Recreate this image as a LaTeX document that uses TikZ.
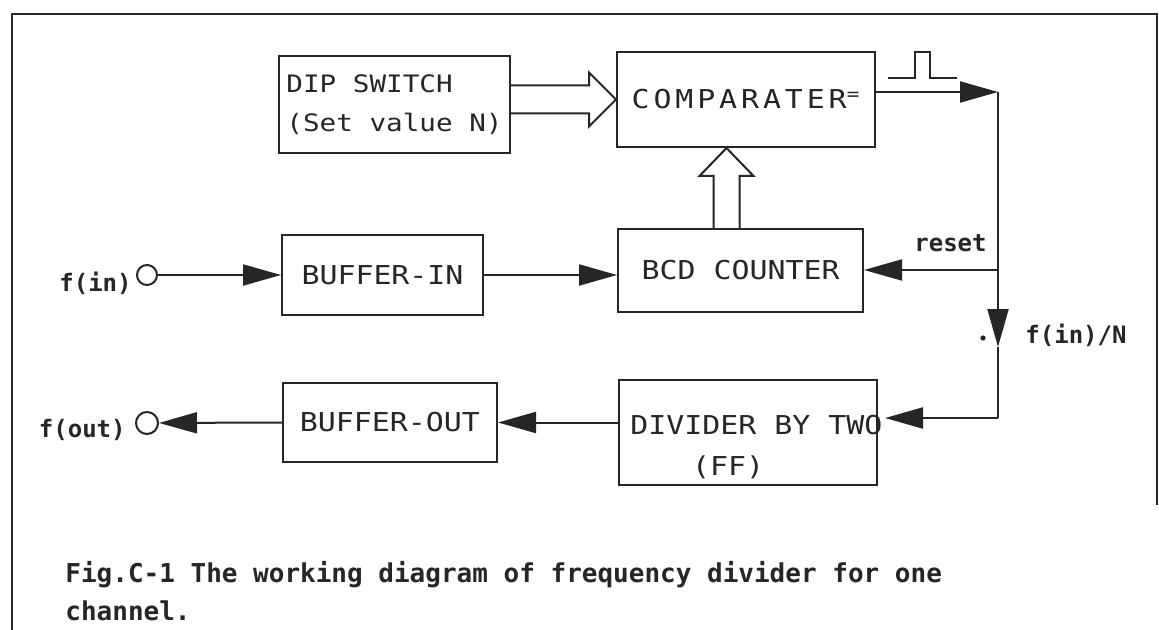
\documentclass[tikz,border=0pt]{standalone}
\usepackage{fontspec}
\usepackage{tikz}
\usetikzlibrary{positioning,arrows.meta,calc}
\newfontfamily\boxfont[FakeStretch=1.15]{DejaVu Sans Mono}
\newfontfamily\lblfont{DejaVu Sans Mono}
\definecolor{inkgray}{HTML}{262626}

\begin{document}
\begin{tikzpicture}[x=0.5pt,y=-0.5pt,
  blk/.style={draw=inkgray, line width=1pt, rectangle, inner sep=0pt, text=inkgray, font=\boxfont\fontsize{13}{15}\selectfont},
  btxt/.style={inner sep=0pt, text=inkgray, font=\boxfont\fontsize{13}{15}\selectfont},
  conn/.style={draw=inkgray, line width=1pt},
  tip/.style={-{Triangle[length=19pt,width=10.5pt]}},
  hollow/.style={draw=inkgray, line width=1pt, line join=miter},
  lbl/.style={inner sep=0pt, text=inkgray, font=\lblfont\bfseries\fontsize{12}{14}\selectfont},
  capt/.style={inner sep=0pt, text=inkgray, font=\lblfont\bfseries\fontsize{13}{15}\selectfont},
  port/.style={draw=inkgray, line width=1pt, circle, inner sep=0pt}]
 \useasboundingbox (0,0) rectangle (1159,630);
 \fill[white] (0,0) rectangle (1159,630);
 \draw[inkgray, line width=1.2pt] (12,630) -- (12,14) -- (1157,14) -- (1157,505);

 \node[blk, minimum width=115.5pt, minimum height=48.5pt, align=left, font=\boxfont\fontsize{12}{19.5}\selectfont] (dip) at (394.5,104.5) {DIP SWITCH\\(Set value N)};
 \node[blk, minimum width=129pt, minimum height=47.5pt] (comp) at (746,99.5) {\addfontfeature{LetterSpace=15}COMPARATER\textsuperscript{=}};
 \node[blk, minimum width=100.5pt, minimum height=40pt] (bufin) at (382.5,275) {BUFFER-IN};
 \node[blk, minimum width=122.5pt, minimum height=41.5pt] (bcd) at (740.5,270.5) {BCD COUNTER};
 \node[blk, minimum width=129pt, minimum height=52.5pt] (div) at (748,432.5) {};
 \node[btxt, anchor=west] (divtxt) at ($(div.west)+(12,-7)$) {DIVIDER BY TWO};
 \node[btxt] (divff) at ($(div.center)+(-20,35)$) {(FF)};
 \node[blk, minimum width=107pt, minimum height=39.5pt] (bufout) at (390,422.5) {BUFFER-OUT};

 \node[port, minimum size=10pt] (cin) at (147,275) {};
 \node[port, minimum size=11pt] (cout) at (147,423) {};
 \node[lbl, left=2pt of cin, yshift=-4pt] (fin) {f(in)};
 \node[lbl, left=4.5pt of cout, yshift=-3.5pt] (fout) {f(out)};

 \coordinate (cr) at (998,92);
 \coordinate (rs) at (998,270);
 \coordinate (dn) at (998,347);
 \coordinate (dv) at (998,418);
 \coordinate (upx) at ($(bcd.north)+(-14,0)$);

 \draw[hollow] ($(dip.east |- comp.west)+(0,14)$) -- ($(comp.west)+(-27,14)$) -- ++(0,13) -- (comp.west) -- ++(-27,-27) -- ++(0,13) -- ($(dip.east |- comp.west)+(0,-14)$);
 \draw[hollow] ($(upx)+(-13,0)$) -- ($(upx |- comp.south)+(-13,28)$) -- ++(-14,0) -- (upx |- comp.south) -- ++(27,28) -- ++(-14,0) -- ($(upx)+(13,0)$);

 \draw[conn, tip] (cin) -- (bufin.west |- cin);
 \draw[conn, tip] (bufin.east) -- (bcd.west |- bufin.east);
 \draw[conn, tip] (comp.east |- cr) -- (cr);
 \draw[conn] ($(cr)+(-110,-14)$) -- ++(27,0) -- ++(0,-26) -- ++(15,0) -- ++(0,26) -- ++(27,0);
 \draw[conn, tip] (cr) -- (dn);
 \draw[conn] (dn) -- (dv);
 \draw[conn, tip] (rs) -- (bcd.east |- rs);
 \draw[conn, tip] (dv) -- ($(div.east |- dv)+(7,0)$);
 \draw[conn, tip] (div.west |- bufout.east) -- (bufout.east);
 \draw[conn, tip] (bufout.west) -- (cout);

 \node[lbl, anchor=south east] (rst) at (987,252) {reset};
 \node[lbl, anchor=west] (fn) at (1025,335) {f(in)/N};
 \fill[inkgray] (983,338) circle (1.3pt);

 \node[capt, anchor=base west] (cap1) at (65,582) {Fig.C-1 The working diagram of frequency divider for one};
 \node[capt, anchor=base west] (cap2) at (65,620) {channel.};
\end{tikzpicture}
\end{document}
